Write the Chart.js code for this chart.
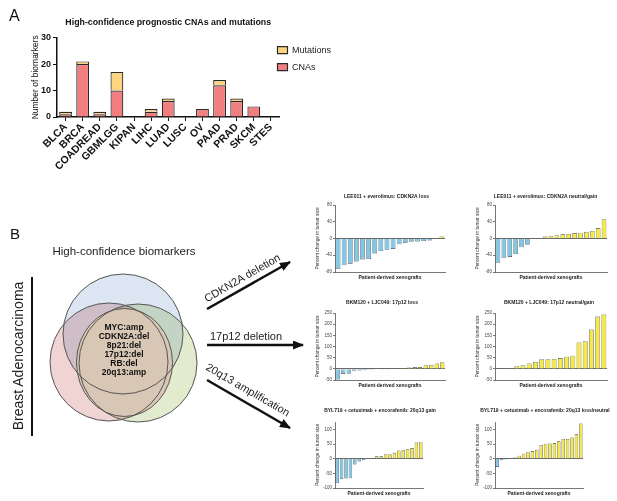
<!DOCTYPE html>
<html>
<head>
<meta charset="utf-8">
<script src="https://cdn.jsdelivr.net/npm/chart.js@4.4.0/dist/chart.umd.min.js"></script>
<style>
  body { margin: 0; background: #fff; width: 617px; height: 501px; position: relative; overflow: hidden; font-family: "Liberation Sans", Arial, sans-serif; }
  canvas, svg { position: absolute; }
</style>
</head>
<body>
<svg width="617" height="501" style="left:0;top:0" font-family="Liberation Sans, Arial, sans-serif">
  <defs>
    <marker id="head" markerWidth="11" markerHeight="9" refX="10" refY="4.5" orient="auto" markerUnits="userSpaceOnUse">
      <path d="M0,0 L11,4.5 L0,9 z" fill="#111"/>
    </marker>
  </defs>
  <text x="9" y="21" font-size="16" fill="#111">A</text>
  <text x="10" y="239" font-size="15" fill="#111">B</text>
  <text x="124" y="255" font-size="11.5" text-anchor="middle" fill="#222">High-confidence biomarkers</text>
  <line x1="32" y1="277" x2="32" y2="436" stroke="#111" stroke-width="2"/>
  <text transform="translate(23,356) rotate(-90)" font-size="14" text-anchor="middle" fill="#222">Breast Adenocarcinoma</text>

  <!-- venn -->
  <g style="isolation:isolate">
    <circle cx="123" cy="334" r="60" fill="#dce6f2" style="mix-blend-mode:multiply"/>
    <circle cx="109" cy="362" r="59" fill="#f0d3d3" style="mix-blend-mode:multiply"/>
    <circle cx="138" cy="363" r="59" fill="#e3ebcf" style="mix-blend-mode:multiply"/>
  </g>
  <ellipse cx="124.5" cy="362.5" rx="48" ry="54" fill="#d9c7b5"/>
  <g fill="none" stroke="#555" stroke-width="1">
    <circle cx="123" cy="334" r="60"/>
    <circle cx="109" cy="362" r="59"/>
    <circle cx="138" cy="363" r="59"/>
    <ellipse cx="124.5" cy="362.5" rx="48" ry="54"/>
  </g>
  <g font-size="8.5" font-weight="bold" text-anchor="middle" fill="#111">
    <text x="124" y="330">MYC:amp</text>
    <text x="124" y="339">CDKN2A:del</text>
    <text x="124" y="348">8p21:del</text>
    <text x="124" y="357">17p12:del</text>
    <text x="124" y="366">RB:del</text>
    <text x="124" y="375">20q13:amp</text>
  </g>

  <!-- arrows -->
  <g stroke="#111" stroke-width="2.5" marker-end="url(#head)">
    <line x1="207" y1="309" x2="290" y2="262"/>
    <line x1="207" y1="345" x2="303" y2="345"/>
    <line x1="207" y1="380" x2="290" y2="428"/>
  </g>
  <g font-size="11" fill="#222" text-anchor="middle">
    <text transform="translate(244,281) rotate(-30)">CDKN2A deletion</text>
    <text x="246" y="340">17p12 deletion</text>
    <text transform="translate(246,393) rotate(30)">20q13 amplification</text>
  </g>
</svg>

<canvas id="prognosticChart" width="351" height="170" style="left:0;top:0"></canvas>
<canvas id="cdkn2aLoss" width="173" height="90" style="left:300px;top:191px"></canvas>
<canvas id="cdkn2aGain" width="171" height="90" style="left:460px;top:191px"></canvas>
<canvas id="p17Loss" width="164" height="92" style="left:300px;top:297px"></canvas>
<canvas id="p17Gain" width="178" height="92" style="left:460px;top:297px"></canvas>
<canvas id="q20Gain" width="160" height="92" style="left:300px;top:405px"></canvas>
<canvas id="q20Loss" width="170" height="92" style="left:460px;top:405px"></canvas>

<script>
// Panel A: biomarkers per cancer type
const cancerTypes = ['BLCA', 'BRCA', 'COADREAD', 'GBMLGG', 'KIPAN', 'LIHC', 'LUAD', 'LUSC', 'OV', 'PAAD', 'PRAD', 'SKCM', 'STES'];
const cnaCounts = [1, 20, 1, 10, 0, 2, 6, 0, 3, 12, 6, 4, 0];
const mutationCounts = [1, 1, 1, 7, 0, 1, 1, 0, 0, 2, 1, 0, 0];

// Panel B: percent change in tumor size per xenograft (sorted)
const cdkn2aLossChange = [-73, -64, -60, -55, -50, -49, -36, -30, -27, -25, -14, -10, -8, -7, -6, -5, 0, 5];
const cdkn2aGainChange = [-58, -46, -44, -37, -21, -15, -1, 0, 4.5, 6, 8, 10, 11, 13, 14, 16, 18, 25, 46];
const p17LossChange = [-48, -23, -22, -9, -8, -6, -4, -2, -1, -1, 1, 1, 4, 6, 8, 8, 16, 18, 24, 30];
const p17GainChange = [1, 2, 3, 12, 16, 24, 31, 43, 43, 44, 48, 54, 59, 118, 124, 176, 234, 243];
const q20GainChange = [-83, -70, -68, -67, -20, -10, -5, -1, 2, 8, 8, 15, 15, 20, 28, 30, 33, 36, 55, 58];
const q20LossChange = [-28, -5, -3, 0, 4, 10, 17, 24, 26, 30, 47, 51, 52, 53, 59, 67, 67, 72, 83, 120];

// y axis ranges [min, max, step]
const cdkn2aTicks = [-80, 80, 20];
const p17Ticks = [-50, 250, 50];
const q20Ticks = [-100, 125, 25];

Chart.defaults.font.family = '"Liberation Sans", Arial, sans-serif';
Chart.defaults.color = '#222';
Chart.defaults.animation = false;

// pull the legend a bit closer to the last bar, like the original
const legendNudge = {
    id: 'legendNudge',
    afterLayout(chart) {
        chart.legend.left -= 10;
        chart.legend.right -= 10;
    }
};

new Chart(document.getElementById('prognosticChart'), {
    type: 'bar',
    data: {
        labels: cancerTypes,
        datasets: [
            { label: 'CNAs', data: cnaCounts, backgroundColor: '#f17f7f', borderColor: '#2a2a2a', borderWidth: 1.2, barPercentage: 0.75, categoryPercentage: 1 },
            { label: 'Mutations', data: mutationCounts, backgroundColor: '#fdd47f', borderColor: '#2a2a2a', borderWidth: 1.2, barPercentage: 0.75, categoryPercentage: 1 }
        ]
    },
    options: {
        responsive: false,
        layout: { padding: 0 },
        plugins: {
            title: {
                display: true, text: 'High-confidence prognostic CNAs and mutations', fullSize: false,
                font: { size: 8.8, weight: 'bold' }, color: '#111', padding: { top: 17, bottom: 10 }
            },
            legend: {
                position: 'right', align: 'start', reverse: true, fullSize: false,
                labels: { boxWidth: 10, boxHeight: 7, padding: 8, font: { size: 9 }, color: '#222' }
            },
            tooltip: { enabled: false }
        },
        scales: {
            x: {
                stacked: true,
                grid: { drawOnChartArea: false, offset: false, tickLength: 4, tickColor: '#111' },
                border: { color: '#111', width: 1.5 },
                ticks: { autoSkip: false, minRotation: 45, maxRotation: 45, font: { size: 10.5, weight: 'bold' }, color: '#111', padding: 0 },
                afterFit: s => { s.height = 53; }
            },
            y: {
                stacked: true, min: 0, max: 30,
                ticks: { stepSize: 10, font: { size: 9, weight: 'bold' }, color: '#111', padding: 2 },
                grid: { drawOnChartArea: false, tickLength: 4, tickColor: '#111' },
                border: { color: '#111', width: 1.5 },
                title: { display: true, text: 'Number of biomarkers', font: { size: 8.5 }, color: '#111', padding: { top: 31, bottom: 0 } },
                afterFit: s => { s.width = 57; }
            }
        }
    },
    plugins: [legendNudge]
});

// waterfall plots for the xenografts
// padRight trims the plot on the right while the title stays centred on the whole canvas
const drawXenograftChart = (id, title, values, ticks, titleGap, padRight) => {
    new Chart(document.getElementById(id), {
        type: 'bar',
        data: {
            labels: values.map((v, i) => i + 1),
            datasets: [{
                data: values,
                backgroundColor: c => c.raw < 0 ? '#80c8e6' : '#f4e946',
                borderColor: '#3a3a3a',
                borderWidth: 0.6,
                barPercentage: 0.78,
                categoryPercentage: 1
            }]
        },
        options: {
            responsive: false,
            layout: { padding: 0 },
            plugins: {
                legend: { display: false },
                tooltip: { enabled: false },
                title: {
                    display: true, text: title,
                    font: { size: 5, weight: 'bold' }, color: '#222', padding: { top: 3, bottom: titleGap }
                }
            },
            scales: {
                x: {
                    ticks: { display: false },
                    grid: { display: false },
                    border: { color: '#555', width: 0.8 },
                    title: { display: true, text: 'Patient-derived xenografts', font: { size: 5, weight: 'bold' }, color: '#222', padding: 0 },
                    afterFit: s => { s.height = 9; s.paddingRight = padRight; }
                },
                y: {
                    min: ticks[0], max: ticks[1],
                    ticks: { stepSize: ticks[2], font: { size: 4.5 }, color: '#444', padding: 1 },
                    grid: {
                        color: c => (c.tick && c.tick.value === 0) ? '#444' : 'rgba(0,0,0,0)',
                        lineWidth: 0.8, tickLength: 2, tickColor: '#555'
                    },
                    border: { color: '#555', width: 0.8 },
                    title: { display: true, text: 'Percent change in tumor size', font: { size: 4.8 }, color: '#333', padding: { top: 15, bottom: 0 } },
                    afterFit: s => { s.width = 35; }
                }
            }
        }
    });
};

drawXenograftChart('cdkn2aLoss', 'LEE011 + everolimus: CDKN2A loss', cdkn2aLossChange, cdkn2aTicks, 5, 28);
drawXenograftChart('cdkn2aGain', 'LEE011 + everolimus: CDKN2A neutral/gain', cdkn2aGainChange, cdkn2aTicks, 5, 24);
drawXenograftChart('p17Loss', 'BKM120 + LJC049: 17p12 loss', p17LossChange, p17Ticks, 7, 19);
drawXenograftChart('p17Gain', 'BKM120 + LJC049: 17p12 neutral/gain', p17GainChange, p17Ticks, 7, 31);
drawXenograftChart('q20Gain', 'BYL719 + cetuximab + encorafenib: 20q13 gain', q20GainChange, q20Ticks, 8, 37);
drawXenograftChart('q20Loss', 'BYL719 + cetuximab + encorafenib: 20q13 loss/neutral', q20LossChange, q20Ticks, 8, 47);
</script>
</body>
</html>
